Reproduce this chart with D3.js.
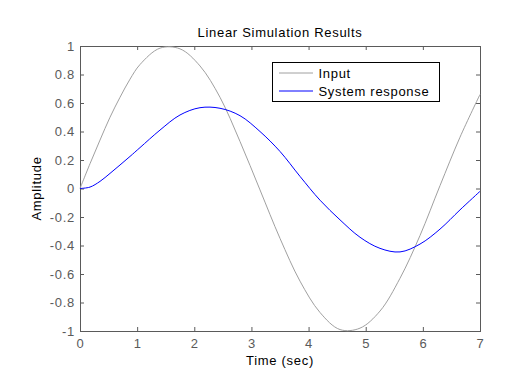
<!DOCTYPE html>
<html>
<head>
<meta charset="utf-8">
<script src="https://cdn.jsdelivr.net/npm/d3@7"></script>
<style>
  body { margin: 0; background: #fff; }
  text { font-family: Arial, "Liberation Sans", sans-serif; font-size: 13px; letter-spacing: 0.7px; }
</style>
</head>
<body>
<script>
// time samples (sec) and values
const time = [0, 0.175, 0.35, 0.525, 0.7, 0.875, 1.05, 1.4, 1.75, 2.1, 2.45, 2.8, 3.15, 3.5,
  3.85, 4.2, 4.55, 4.9, 5.25, 5.6, 5.95, 6.3, 6.65, 7]
const inputValues = [0, 0.174, 0.34, 0.5, 0.64, 0.767, 0.87, 0.985, 0.98, 0.86, 0.64, 0.33, -0.01, -0.35,
  -0.65, -0.87, -0.99, -0.98, -0.86, -0.63, -0.33, 0.02, 0.36, 0.66]
const responseValues = [0, 0.01, 0.05, 0.106, 0.165, 0.225, 0.287, 0.41, 0.516, 0.567, 0.563, 0.511, 0.40, 0.26,
  0.085, -0.082, -0.22, -0.342, -0.42, -0.445, -0.39, -0.285, -0.15, -0.02]
const xTicks = [0, 1, 2, 3, 4, 5, 6, 7]
const yTicks = [-1, -0.8, -0.6, -0.4, -0.2, 0, 0.2, 0.4, 0.6, 0.8, 1]
const seriesNames = ['Input', 'System response']
const seriesColors = ['#a0a0a0', '#0000ff']

const W = 529, H = 372
const margin = { top: 46, right: 49, bottom: 41, left: 80 }
const w = W - margin.left - margin.right
const h = H - margin.top - margin.bottom
const axisColor = '#5a5a5a'

const svg = d3.select('body').append('svg')
  .attr('width', W)
  .attr('height', H)

const x = d3.scaleLinear().domain([0, 7]).range([0, w])
const y = d3.scaleLinear().domain([-1, 1]).range([h, 0])

const g = svg.append('g')
  .attr('transform', `translate(${margin.left},${margin.top})`)

// axes with inward ticks on all four sides
const styleAxis = (sel, labels) => {
  sel.select('.domain').remove()
  sel.selectAll('.tick line').attr('stroke', axisColor)
  sel.selectAll('.tick text').attr('fill', axisColor)
  sel.attr('font-size', null).attr('font-family', null)
  if (!labels) sel.selectAll('.tick text').remove()
}

g.append('g')
  .attr('transform', `translate(0,${h})`)
  .call(d3.axisBottom(x).tickValues(xTicks).tickFormat((d) => String(d)).tickSizeInner(-4).tickPadding(8))
  .call(styleAxis, true)

g.append('g')
  .call(d3.axisTop(x).tickValues(xTicks).tickSizeInner(-4))
  .call(styleAxis, false)

g.append('g')
  .call(d3.axisLeft(y).tickValues(yTicks).tickFormat((d) => String(d)).tickSizeInner(-4).tickPadding(5))
  .call(styleAxis, true)

g.append('g')
  .attr('transform', `translate(${w},0)`)
  .call(d3.axisRight(y).tickValues(yTicks).tickSizeInner(-4))
  .call(styleAxis, false)

g.append('rect')
  .attr('x', 0.5)
  .attr('y', 0.5)
  .attr('width', w)
  .attr('height', h)
  .attr('fill', 'none')
  .attr('stroke', axisColor)

// the two curves
const line = d3.line()
  .x((d) => x(d[0]))
  .y((d) => y(d[1]))
  .curve(d3.curveCatmullRom)

const series = [inputValues, responseValues]
series.forEach((vals, i) => {
  g.append('path')
    .datum(time.map((t, j) => [t, vals[j]]))
    .attr('d', line)
    .attr('fill', 'none')
    .attr('stroke', seriesColors[i])
    .attr('stroke-width', 1)
})

// title and axis labels
svg.append('text')
  .attr('x', margin.left + w / 2)
  .attr('y', 37)
  .attr('text-anchor', 'middle')
  .text('Linear Simulation Results')

svg.append('text')
  .attr('x', margin.left + w / 2)
  .attr('y', 365)
  .attr('text-anchor', 'middle')
  .text('Time (sec)')

svg.append('text')
  .attr('transform', `translate(41,${margin.top + h / 2}) rotate(-90)`)
  .attr('text-anchor', 'middle')
  .text('Amplitude')

// legend
const legend = svg.append('g').attr('transform', 'translate(272.5,62.5)')
legend.append('rect')
  .attr('width', 167)
  .attr('height', 39)
  .attr('fill', '#fff')
  .attr('stroke', '#000')

seriesNames.forEach((name, i) => {
  const ly = 10.5 + i * 18
  legend.append('line')
    .attr('x1', 6.5)
    .attr('x2', 40.5)
    .attr('y1', ly)
    .attr('y2', ly)
    .attr('stroke', seriesColors[i])
  legend.append('text')
    .attr('x', 46)
    .attr('y', ly + 5)
    .text(name)
})
</script>
</body>
</html>
